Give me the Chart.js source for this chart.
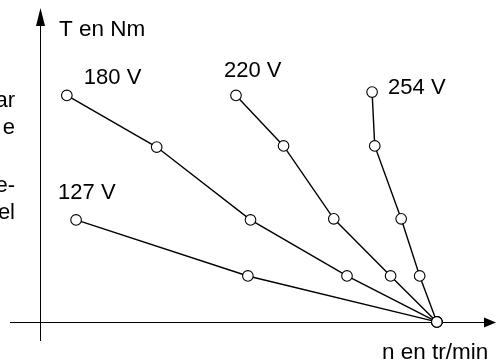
<!DOCTYPE html>
<html>
<head>
<meta charset="utf-8">
<script src="https://cdn.jsdelivr.net/npm/chart.js@4"></script>
<style>
  html, body { margin: 0; padding: 0; background: #fff; }
  canvas { display: block; }
</style>
</head>
<body>
<canvas id="torqueChart" width="496" height="364"></canvas>
<script>
// series names (supply voltage)
const voltages = ["127 V", "180 V", "220 V", "254 V"];

// speed n (tr/min) and torque T (Nm)
const n127 = [135, 785, 1500];
const t127 = [4.55, 2.05, 0];
const n180 = [100, 440, 795, 1160, 1500];
const t180 = [10.1, 7.8, 4.55, 2.05, 0];
const n220 = [740, 920, 1110, 1325, 1500];
const t220 = [10.1, 7.85, 4.6, 2.05, 0];
const n254 = [1255, 1265, 1365, 1435, 1500];
const t254 = [10.25, 7.85, 4.6, 2.05, 0];

const axisTitles = ["n en tr/min", "T en Nm"];
// fragments of the neighbouring text cut off at the left edge
const marginText = ["ar", "e", "e-", "el"];

const nSeries = [n127, n180, n220, n254];
const tSeries = [t127, t180, t220, t254];

// where each voltage label sits relative to the first point of its curve
const labelOffsets = [[-18, -27], [17, -18], [-12, -25], [16, -4]];
const marginY = [101, 128, 186, 213];

const FONT = '"Liberation Sans", Arial, Helvetica, sans-serif';

const datasets = voltages.map(function (v, i) {
    return {
        label: v,
        data: nSeries[i].map(function (n, j) { return { x: n, y: tSeries[i][j] }; }),
        showLine: true,
        borderColor: "#000",
        borderWidth: 1.4,
        pointRadius: 5.3,
        pointBorderWidth: 1.1,
        pointBackgroundColor: "#fff",
        pointBorderColor: "#000",
        order: i
    };
});

const decorations = {
    id: "decorations",
    beforeDatasetsDraw(chart) {
        const ctx = chart.ctx;
        const xs = chart.scales.x, ys = chart.scales.y;
        const x0 = xs.getPixelForValue(0), y0 = ys.getPixelForValue(0);
        const area = chart.chartArea;
        ctx.save();
        ctx.strokeStyle = "#000";
        ctx.fillStyle = "#000";
        ctx.lineWidth = 1;
        // horizontal axis
        ctx.beginPath();
        ctx.moveTo(area.left, Math.round(y0) + 0.5);
        ctx.lineTo(area.right - 6, Math.round(y0) + 0.5);
        ctx.stroke();
        ctx.beginPath();
        ctx.moveTo(area.right + 1, Math.round(y0) + 0.5);
        ctx.lineTo(area.right - 11, Math.round(y0) - 4.5);
        ctx.lineTo(area.right - 11, Math.round(y0) + 5.5);
        ctx.closePath();
        ctx.fill();
        // vertical axis
        ctx.beginPath();
        ctx.moveTo(Math.round(x0) + 0.5, area.bottom);
        ctx.lineTo(Math.round(x0) + 0.5, area.top + 10);
        ctx.stroke();
        ctx.beginPath();
        ctx.moveTo(Math.round(x0) + 0.5, area.top);
        ctx.lineTo(Math.round(x0) - 4, area.top + 18);
        ctx.lineTo(Math.round(x0) + 5, area.top + 18);
        ctx.closePath();
        ctx.fill();
        ctx.restore();
    },
    afterDraw(chart) {
        const ctx = chart.ctx;
        ctx.save();
        ctx.fillStyle = "#000";
        ctx.textBaseline = "middle";
        ctx.font = "22px " + FONT;
        ctx.textAlign = "left";
        chart.data.datasets.forEach(function (ds, i) {
            const p = chart.getDatasetMeta(i).data[0];
            ctx.fillText(ds.label, p.x + labelOffsets[i][0], p.y + labelOffsets[i][1]);
        });
        ctx.font = "22.5px " + FONT;
        ctx.fillText(axisTitles[1], 59, 30);
        ctx.fillText(axisTitles[0], 382, 353);
        ctx.font = "22px " + FONT;
        ctx.textAlign = "right";
        marginText.forEach(function (t, i) {
            ctx.fillText(t, 15, marginY[i]);
        });
        ctx.restore();
    }
};

new Chart(document.getElementById("torqueChart"), {
    type: "scatter",
    data: { datasets: datasets },
    options: {
        responsive: false,
        animation: false,
        layout: { autoPadding: false, padding: { left: 10, right: 1, top: 8, bottom: 23 } },
        plugins: { legend: { display: false }, tooltip: { enabled: false } },
        scales: {
            x: { type: "linear", display: false, min: -115, max: 1720 },
            y: { type: "linear", display: false, min: -0.85, max: 14 }
        }
    },
    plugins: [decorations]
});
</script>
</body>
</html>
